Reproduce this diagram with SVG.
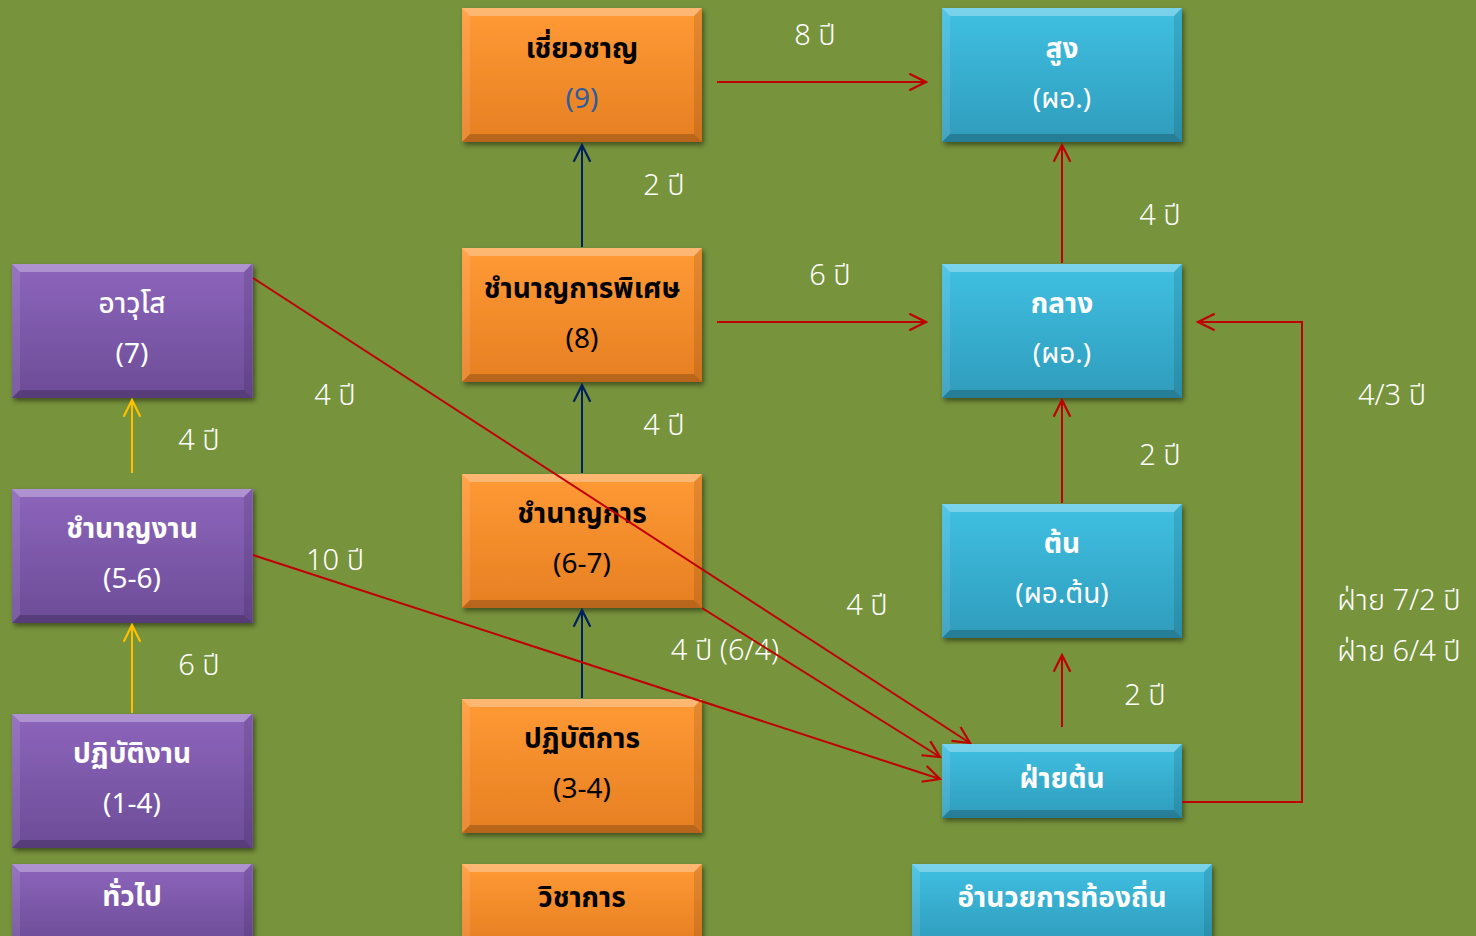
<svg xmlns="http://www.w3.org/2000/svg" xmlns:xlink="http://www.w3.org/1999/xlink" width="1476" height="936" viewBox="0 0 1476 936">
<defs>
<style>
.t{font-family:"Noto Sans Thai","Noto Sans","DejaVu Sans",sans-serif;text-anchor:middle;font-size:28px}
.b{font-weight:bold}
.w{fill:#ffffff}
.k{fill:#000000}
.lbl{font-family:"Noto Sans Thai","Noto Sans","DejaVu Sans",sans-serif;text-anchor:middle;font-size:29px;fill:#ffffff;font-weight:300}
.red{stroke:#C00000;stroke-width:2;fill:none}
.navy{stroke:#002060;stroke-width:2;fill:none}
.yel{stroke:#FFC000;stroke-width:2;fill:none}
.hl{fill:#ffffff;opacity:0.3}
.hl2{fill:#ffffff;opacity:0.1}
.dk{fill:#000000;opacity:0.1}
.dk2{fill:#000000;opacity:0.2}
</style>
<linearGradient id="gO" x1="0" y1="0" x2="0" y2="1"><stop offset="0" stop-color="#FF9A35"/><stop offset="1" stop-color="#E67F22"/></linearGradient>
<linearGradient id="gP" x1="0" y1="0" x2="0" y2="1"><stop offset="0" stop-color="#8D65BC"/><stop offset="1" stop-color="#6C4C97"/></linearGradient>
<linearGradient id="gB" x1="0" y1="0" x2="0" y2="1"><stop offset="0" stop-color="#40C0E2"/><stop offset="1" stop-color="#2F9CBC"/></linearGradient>
<filter id="sh" x="-10%" y="-10%" width="125%" height="130%"><feDropShadow dx="2" dy="3" stdDeviation="2.5" flood-color="#000" flood-opacity="0.45"/></filter>
<marker id="aR" viewBox="0 0 12 12" refX="11" refY="6" markerWidth="20" markerHeight="20" markerUnits="userSpaceOnUse" orient="auto"><path d="M1,1 L11,6 L1,11" fill="none" stroke="#C00000" stroke-width="1.3"/></marker>
<marker id="aN" viewBox="0 0 12 12" refX="11" refY="6" markerWidth="20" markerHeight="20" markerUnits="userSpaceOnUse" orient="auto"><path d="M1,1 L11,6 L1,11" fill="none" stroke="#002060" stroke-width="1.3"/></marker>
<marker id="aY" viewBox="0 0 12 12" refX="11" refY="6" markerWidth="20" markerHeight="20" markerUnits="userSpaceOnUse" orient="auto"><path d="M1,1 L11,6 L1,11" fill="none" stroke="#FFC000" stroke-width="1.3"/></marker>
<g id="bv134">
<polygon class="hl" points="0,0 240,0 232,8 8,8"/>
<polygon class="hl2" points="0,0 8,8 8,126 0,134"/>
<polygon class="dk" points="240,0 232,8 232,126 240,134"/>
<polygon class="dk2" points="0,134 240,134 232,126 8,126"/>
</g>
<g id="bv74">
<polygon class="hl" points="0,0 240,0 232,8 8,8"/>
<polygon class="hl2" points="0,0 8,8 8,66 0,74"/>
<polygon class="dk" points="240,0 232,8 232,66 240,74"/>
<polygon class="dk2" points="0,74 240,74 232,66 8,66"/>
</g>
<g id="bv80">
<polygon class="hl" points="0,0 240,0 232,8 8,8"/>
<polygon class="hl2" points="0,0 8,8 8,80 0,80"/>
<polygon class="dk" points="240,0 232,8 232,80 240,80"/>
</g>
<g id="bv80w">
<polygon class="hl" points="0,0 300,0 292,8 8,8"/>
<polygon class="hl2" points="0,0 8,8 8,80 0,80"/>
<polygon class="dk" points="300,0 292,8 292,80 300,80"/>
</g>
</defs>
<rect x="0" y="0" width="1476" height="936" fill="#77933C"/>

<g id="labels">
<text class="lbl" x="815" y="45">8 ปี</text>
<text class="lbl" x="664" y="195">2 ปี</text>
<text class="lbl" x="830" y="285">6 ปี</text>
<text class="lbl" x="1160" y="225">4 ปี</text>
<text class="lbl" x="335" y="405">4 ปี</text>
<text class="lbl" x="199" y="450">4 ปี</text>
<text class="lbl" x="664" y="435">4 ปี</text>
<text class="lbl" x="1392" y="405">4/3 ปี</text>
<text class="lbl" x="1160" y="465">2 ปี</text>
<text class="lbl" x="335" y="570">10 ปี</text>
<text class="lbl" x="867" y="615">4 ปี</text>
<text class="lbl" x="725" y="660">4 ปี (6/4)</text>
<text class="lbl" x="199" y="675">6 ปี</text>
<text class="lbl" x="1145" y="705">2 ปี</text>
<text class="lbl" x="1399" y="610">ฝ่าย 7/2 ปี</text>
<text class="lbl" x="1399" y="661">ฝ่าย 6/4 ปี</text>
</g>

<g id="n-avuso">
<rect x="12" y="264" width="241" height="134" fill="url(#gP)" filter="url(#sh)"/>
<use xlink:href="#bv134" x="12" y="264"/>
<text class="t w" x="132" y="313" font-weight="500">อาวุโส</text>
<text class="t w" x="132" y="363">(7)</text>
</g>
<g id="n-chamnanngan">
<rect x="12" y="489" width="241" height="134" fill="url(#gP)" filter="url(#sh)"/>
<use xlink:href="#bv134" x="12" y="489"/>
<text class="t w b" x="132" y="538">ชำนาญงาน</text>
<text class="t w" x="132" y="588">(5-6)</text>
</g>
<g id="n-patibatngan">
<rect x="12" y="714" width="241" height="134" fill="url(#gP)" filter="url(#sh)"/>
<use xlink:href="#bv134" x="12" y="714"/>
<text class="t w b" x="132" y="763">ปฏิบัติงาน</text>
<text class="t w" x="132" y="813">(1-4)</text>
</g>
<g id="n-thuapai">
<rect x="12" y="864" width="241" height="80" fill="url(#gP)" filter="url(#sh)"/>
<use xlink:href="#bv80" x="12" y="864"/>
<text class="t w b" x="132" y="906">ทั่วไป</text>
</g>

<g id="n-chiaochan">
<rect x="462" y="8" width="240" height="134" fill="url(#gO)" filter="url(#sh)"/>
<use xlink:href="#bv134" x="462" y="8"/>
<text class="t k b" x="582" y="58">เชี่ยวชาญ</text>
<text class="t" x="582" y="108" fill="#2E5C9E">(9)</text>
</g>
<g id="n-chamnankanphiset">
<rect x="462" y="248" width="240" height="134" fill="url(#gO)" filter="url(#sh)"/>
<use xlink:href="#bv134" x="462" y="248"/>
<text class="t k b" x="582" y="298">ชำนาญการพิเศษ</text>
<text class="t k" x="582" y="348">(8)</text>
</g>
<g id="n-chamnankan">
<rect x="462" y="474" width="240" height="134" fill="url(#gO)" filter="url(#sh)"/>
<use xlink:href="#bv134" x="462" y="474"/>
<text class="t k b" x="582" y="523">ชำนาญการ</text>
<text class="t k" x="582" y="573">(6-7)</text>
</g>
<g id="n-patibatkan">
<rect x="462" y="699" width="240" height="134" fill="url(#gO)" filter="url(#sh)"/>
<use xlink:href="#bv134" x="462" y="699"/>
<text class="t k b" x="582" y="748">ปฏิบัติการ</text>
<text class="t k" x="582" y="798">(3-4)</text>
</g>
<g id="n-wichakan">
<rect x="462" y="864" width="240" height="80" fill="url(#gO)" filter="url(#sh)"/>
<use xlink:href="#bv80" x="462" y="864"/>
<text class="t k b" x="582" y="907">วิชาการ</text>
</g>

<g id="n-sung">
<rect x="942" y="8" width="240" height="134" fill="url(#gB)" filter="url(#sh)"/>
<use xlink:href="#bv134" x="942" y="8"/>
<text class="t w b" x="1062" y="58">สูง</text>
<text class="t w" x="1062" y="108">(ผอ.)</text>
</g>
<g id="n-klang">
<rect x="942" y="264" width="240" height="134" fill="url(#gB)" filter="url(#sh)"/>
<use xlink:href="#bv134" x="942" y="264"/>
<text class="t w b" x="1062" y="313">กลาง</text>
<text class="t w" x="1062" y="363">(ผอ.)</text>
</g>
<g id="n-ton">
<rect x="942" y="504" width="240" height="134" fill="url(#gB)" filter="url(#sh)"/>
<use xlink:href="#bv134" x="942" y="504"/>
<text class="t w b" x="1062" y="553">ต้น</text>
<text class="t w" x="1062" y="603">(ผอ.ต้น)</text>
</g>
<g id="n-faiton">
<rect x="942" y="744" width="240" height="74" fill="url(#gB)" filter="url(#sh)"/>
<use xlink:href="#bv74" x="942" y="744"/>
<text class="t w b" x="1062" y="788">ฝ่ายต้น</text>
</g>
<g id="n-amnuaikan">
<rect x="912" y="864" width="300" height="80" fill="url(#gB)" filter="url(#sh)"/>
<use xlink:href="#bv80w" x="912" y="864"/>
<text class="t w b" x="1062" y="907">อำนวยการท้องถิ่น</text>
</g>

<g id="connectors">
<line class="yel" x1="132" y1="473" x2="132" y2="400" marker-end="url(#aY)"/>
<line class="yel" x1="132" y1="713" x2="132" y2="625" marker-end="url(#aY)"/>
<line class="navy" x1="582" y1="698" x2="582" y2="610" marker-end="url(#aN)"/>
<line class="navy" x1="582" y1="473" x2="582" y2="385" marker-end="url(#aN)"/>
<line class="navy" x1="582" y1="247" x2="582" y2="145" marker-end="url(#aN)"/>
<line class="red" x1="717" y1="82" x2="926" y2="82" marker-end="url(#aR)"/>
<line class="red" x1="717" y1="322" x2="926" y2="322" marker-end="url(#aR)"/>
<line class="red" x1="1062" y1="263" x2="1062" y2="145" marker-end="url(#aR)"/>
<line class="red" x1="1062" y1="503" x2="1062" y2="400" marker-end="url(#aR)"/>
<line class="red" x1="1062" y1="727" x2="1062" y2="655" marker-end="url(#aR)"/>
<polyline class="red" points="1182,802 1302,802 1302,322 1198,322" marker-end="url(#aR)"/>
<line class="red" x1="253" y1="278" x2="970" y2="743" marker-end="url(#aR)"/>
<line class="red" x1="702" y1="608" x2="940" y2="757" marker-end="url(#aR)"/>
<line class="red" x1="253" y1="555" x2="940" y2="779" marker-end="url(#aR)"/>
</g>
</svg>
